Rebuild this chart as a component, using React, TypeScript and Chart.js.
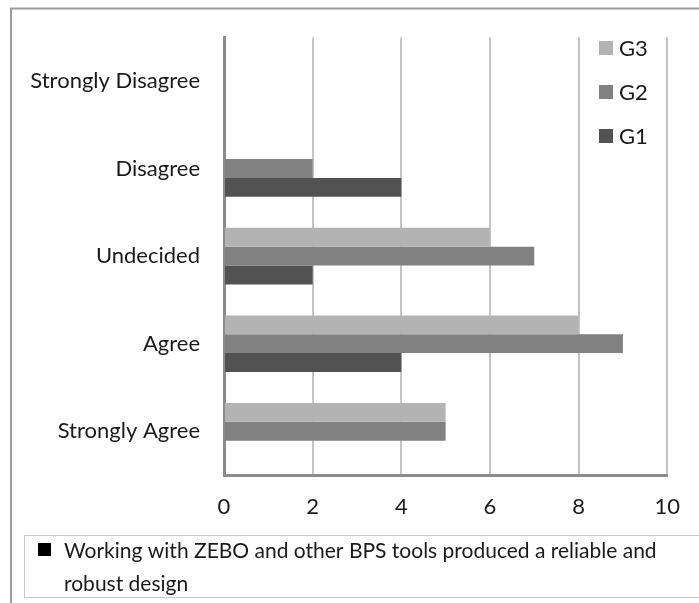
import React, { useEffect, useRef } from "react";
import { Chart, registerables } from "chart.js";

Chart.register(...registerables);

const categories = ["Strongly Disagree", "Disagree", "Undecided", "Agree", "Strongly Agree"];
const seriesNames = ["G3", "G2", "G1"];
const g3Values = [0, 0, 6, 8, 5];
const g2Values = [0, 2, 7, 9, 5];
const g1Values = [0, 4, 2, 4, 0];
const seriesColors = ["#b3b3b3", "#818181", "#525252"];
const footnoteLines = [
  "Working with ZEBO and other BPS tools produced a reliable and",
  "robust design",
];

const FONT = "Lato, 'DejaVu Sans', sans-serif";

export default function App() {
  const ref = useRef<HTMLCanvasElement | null>(null);

  useEffect(() => {
    const canvas = ref.current;
    if (!canvas) return;

    const decor = {
      id: "decor",
      afterDraw(chart: any) {
        const ctx = chart.ctx as CanvasRenderingContext2D;
        ctx.save();
        // outer frame
        ctx.strokeStyle = "#9c9c9c";
        ctx.lineWidth = 2;
        ctx.strokeRect(11, 8.5, 900, 900);
        // top-right legend
        ctx.font = `22px ${FONT}`;
        ctx.textBaseline = "middle";
        ctx.textAlign = "left";
        const ys = [48, 92, 136];
        seriesNames.forEach((name, i) => {
          ctx.fillStyle = seriesColors[i];
          ctx.fillRect(599, ys[i] - 7, 14, 14);
          ctx.fillStyle = "#1a1a1a";
          ctx.fillText(name, 619, ys[i] + 1);
        });
        // bottom legend box
        ctx.strokeStyle = "#c8c8c8";
        ctx.lineWidth = 1;
        ctx.strokeRect(24.5, 535.5, 700, 62);
        ctx.fillStyle = "#000";
        ctx.fillRect(38, 543, 13, 13);
        ctx.font = `21px ${FONT}`;
        ctx.fillStyle = "#1a1a1a";
        ctx.fillText(footnoteLines[0], 64, 551);
        ctx.fillText(footnoteLines[1], 64, 584);
        ctx.restore();
      },
    };

    const chart = new Chart(canvas, {
      type: "bar",
      data: {
        labels: categories,
        datasets: [
          { label: seriesNames[0], data: g3Values, backgroundColor: seriesColors[0] },
          { label: seriesNames[1], data: g2Values, backgroundColor: seriesColors[1] },
          { label: seriesNames[2], data: g1Values, backgroundColor: seriesColors[2] },
        ],
      },
      options: {
        indexAxis: "y",
        responsive: false,
        animation: false,
        devicePixelRatio: 1,
        categoryPercentage: 0.646,
        barPercentage: 1,
        layout: { padding: { left: 0, top: 30, right: 25, bottom: 0 } },
        plugins: {
          legend: { display: false },
          tooltip: { enabled: false },
        },
        scales: {
          x: {
            min: 0,
            max: 10,
            ticks: {
              stepSize: 2,
              color: "#1a1a1a",
              font: { family: FONT, size: 22 },
              padding: 19,
            },
            grid: { color: "#c4c4c4", lineWidth: 2, drawTicks: false },
            border: { color: "#8c8c8c", width: 3 },
            afterFit: (s: any) => {
              s.height = 128;
            },
          },
          y: {
            ticks: {
              color: "#1a1a1a",
              font: { family: FONT, size: 22 },
              padding: 24,
            },
            grid: { display: false, drawTicks: false },
            border: { color: "#8c8c8c", width: 3 },
            afterFit: (s: any) => {
              s.width = 224;
            },
          },
        },
      } as any,
      plugins: [decor],
    });

    return () => chart.destroy();
  }, []);

  return (
    <div style={{ position: "fixed", left: 0, top: 0, width: 699, height: 603, background: "#fff" }}>
      <canvas ref={ref} width={699} height={603} style={{ display: "block" }} />
    </div>
  );
}
